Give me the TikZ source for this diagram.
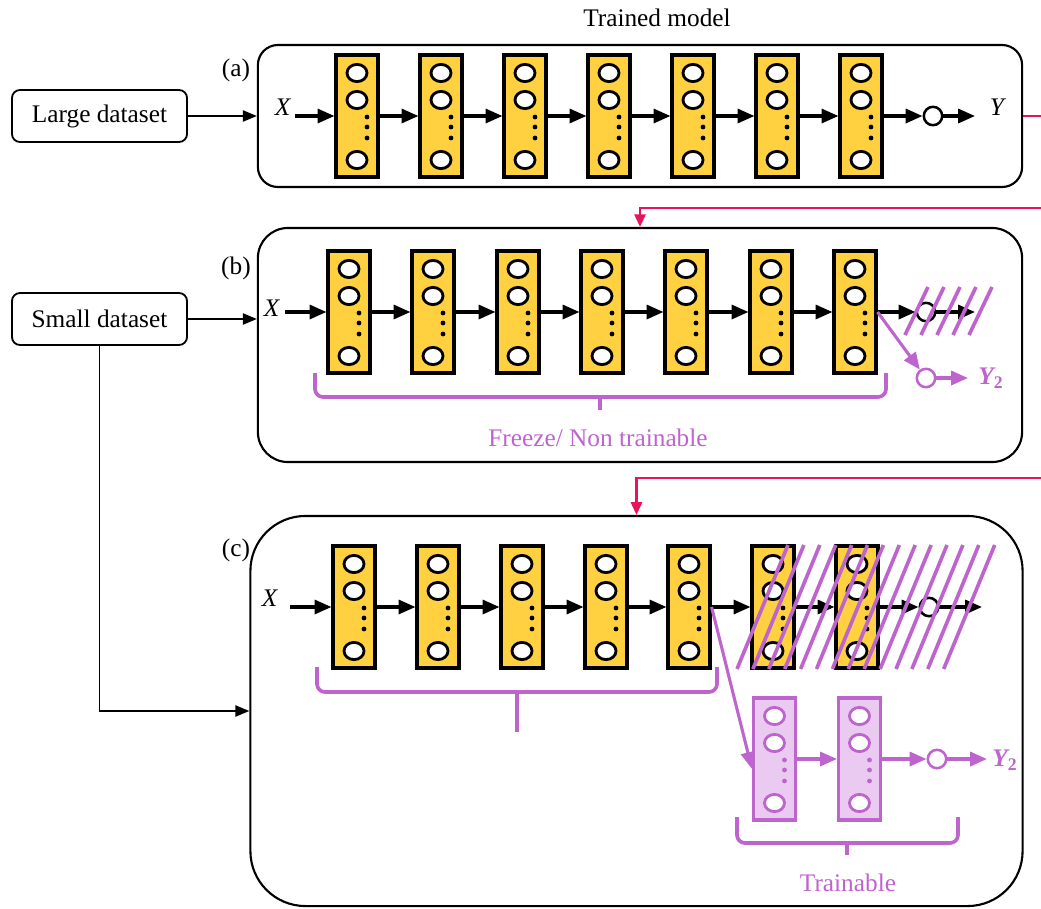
\documentclass[tikz,border=0pt]{standalone}
\usepackage{fontspec}
\setmainfont{Liberation Serif}
\usetikzlibrary{
    arrows.meta,
    positioning,
    shapes.geometric,
    calc,
}

\definecolor{layeryellow}{RGB}{255,209,64}
\definecolor{nnpurple}{RGB}{190,100,205}
\definecolor{lightpurple}{RGB}{234,202,240}
\definecolor{linkred}{RGB}{232,20,90}

\tikzset{
    pics/nnlayer/.style 2 args={code={
        \node[layerbox, draw=#2, fill=#1] (-box) at (0,0) {};
        \foreach \dy/\nm in {-43/n1,-16/n2,44/n3}
            \node[neuron, draw=#2] (-\nm) at (0,\dy) {};
        \foreach \dy in {1,11,22}
            \fill[#2] (10,\dy) circle (1.7pt);
    }},
}

\begin{document}
\begin{tikzpicture}[
        x=0.025cm, y=-0.025cm,
        every node/.style={font=\fontsize{18}{21}\selectfont},
        layerbox/.style={rectangle, minimum width=1.05cm, minimum height=3.05cm, line width=2.2pt, inner sep=0pt},
        neuron/.style={ellipse, fill=white, minimum width=0.5cm, minimum height=0.43cm, inner sep=0pt, line width=2pt},
        outnode/.style={circle, fill=white, minimum size=0.46cm, inner sep=0pt, line width=1.8pt},
        frame/.style={draw, line width=1.5pt, inner sep=0pt},
        databox/.style={draw, rounded corners=0.2cm, line width=1.3pt, minimum width=4.375cm, minimum height=1.3cm},
        link/.style={line width=2.2pt, -{Triangle[length=12pt,width=10pt]}},
        feed/.style={line width=1.3pt, -{Triangle[length=10pt,width=8pt]}},
        redlink/.style={linkred, line width=1.5pt},
        hatch/.style={nnpurple, line width=2.6pt},
        bracket/.style={nnpurple, line width=2.6pt, rounded corners=0.2cm},
    ]
        \useasboundingbox (0,0) rectangle (1041,909);

        % Frames
        \node[frame, rounded corners=0.5cm, minimum width=19.1cm, minimum height=3.55cm] (frame-a) at (640,116) {};
        \node[frame, rounded corners=0.75cm, minimum width=19.1cm, minimum height=5.85cm] (frame-b) at (640,345) {};
        \node[frame, rounded corners=1.375cm, minimum width=19.3cm, minimum height=9.75cm] (frame-c) at (636.5,711) {};

        \node (title) at (657,18) {Trained model};
        \node (lab-a) at (236,70) {(a)};
        \node (lab-b) at (236,268) {(b)};
        \node (lab-c) at (236,550) {(c)};

        % Datasets
        \node[databox] (large) at (99.5,116) {Large dataset};
        \node[databox] (small) at (99.5,319) {Small dataset};
        \draw[feed] (large) -- (frame-a);
        \draw[feed] (small) -- (small -| frame-b.west);
        \draw[feed] (small.south) |- (frame-c.west);

        % (a) trained model
        \foreach \i/\x in {1/357,2/441,3/525,4/609,5/693,6/777,7/861}
            \pic (a\i) at (\x,116) {nnlayer={layeryellow}{black}};
        \foreach \i/\j in {1/2,2/3,3/4,4/5,5/6,6/7}
            \draw[link] (a\i-box) -- (a\j-box);
        \node[outnode, draw] (a-out) at (933,116) {};
        \coordinate (a-start) at (295,116);
        \coordinate (a-end) at (975,116);
        \node (a-x) at (283,107) {\textit{X}};
        \node (a-y) at (998,107) {\textit{Y}};
        \draw[link] (a-start) -- (a1-box);
        \draw[link] (a7-box) -- (a-out);
        \draw[link] (a-out) -- (a-end);

        % Red links
        \coordinate (edge-a) at (1041,116);
        \coordinate (edge-b) at (1041,208);
        \coordinate (edge-c) at (1041,478);
        \draw[redlink] (frame-a.east) -- (edge-a);
        \draw[redlink, -{Triangle[length=9pt,width=8pt]}] (edge-b) -| (frame-b.north);
        \draw[redlink, -{Triangle[length=9pt,width=8pt]}] (edge-c) -| (frame-c.north);

        % (b) frozen layers, new output
        \foreach \i/\x in {1/349,2/433,3/518,4/602,5/686,6/771,7/855}
            \pic (b\i) at (\x,312) {nnlayer={layeryellow}{black}};
        \foreach \i/\j in {1/2,2/3,3/4,4/5,5/6,6/7}
            \draw[link] (b\i-box) -- (b\j-box);
        \node[outnode, draw] (b-out) at (926,312) {};
        \coordinate (b-start) at (285,312);
        \coordinate (b-end) at (975,312);
        \node (b-x) at (272,308) {\textit{X}};
        \draw[link] (b-start) -- (b1-box);
        \draw[link] (b7-box) -- (b-out);
        \draw[link] (b-out) -- (b-end);
        \foreach \k in {0,...,4}
            \draw[hatch] (905+16*\k,335) -- (928+16*\k,287);

        \node[outnode, draw=nnpurple] (b-out2) at (926,378) {};
        \coordinate (b-end2) at (968,378);
        \node[text=nnpurple] (b-y2) at (991,378) {{\bfseries\itshape Y}\textsubscript{\bfseries\upshape 2}};
        \draw[link, nnpurple] (b7-box.east) -- (b-out2);
        \draw[link, nnpurple] (b-out2) -- (b-end2);

        \draw[bracket] (315,373) -- (315,397) -- (886,397) -- (886,373);
        \draw[bracket] (600,397) -- (600,410);
        \node[text=nnpurple] (freeze) at (598,438) {Freeze/ Non trainable};

        % (c) fine tuning
        \foreach \i/\x in {1/354,2/438,3/522,4/606,5/689,6/773,7/857}
            \pic (c\i) at (\x,607) {nnlayer={layeryellow}{black}};
        \foreach \i/\j in {1/2,2/3,3/4,4/5,5/6,6/7}
            \draw[link] (c\i-box) -- (c\j-box);
        \node[outnode, draw] (c-out) at (929,607) {};
        \coordinate (c-start) at (290,607);
        \coordinate (c-end) at (982,607);
        \node (c-x) at (270,598) {\textit{X}};
        \draw[link] (c-start) -- (c1-box);
        \draw[link] (c7-box) -- (c-out);
        \draw[link] (c-out) -- (c-end);
        \foreach \k in {0,...,13}
            \draw[hatch] (737+15.9*\k,669) -- (788+15.9*\k,545);

        \foreach \i/\x in {1/774.5,2/859.5}
            \pic (p\i) at (\x,759) {nnlayer={lightpurple}{nnpurple}};
        \node[outnode, draw=nnpurple] (p-out) at (937,759) {};
        \coordinate (p-end) at (987,759);
        \node[text=nnpurple] (p-y2) at (1005,760) {{\bfseries\itshape Y}\textsubscript{\bfseries\upshape 2}};
        \draw[link, nnpurple] (c5-box.east) -- ([yshift=-7pt]p1-box.west);
        \draw[link, nnpurple] (p1-box) -- (p2-box);
        \draw[link, nnpurple] (p2-box) -- (p-out);
        \draw[link, nnpurple] (p-out) -- (p-end);

        \draw[bracket] (317,667) -- (317,692) -- (717,692) -- (717,667);
        \draw[bracket] (517,692) -- (517,732);
        \draw[bracket] (737,817) -- (737,843) -- (958,843) -- (958,817);
        \draw[bracket] (847,843) -- (847,855);
        \node[text=nnpurple] (trainable) at (848,883) {Trainable};
    \end{tikzpicture}
\end{document}
